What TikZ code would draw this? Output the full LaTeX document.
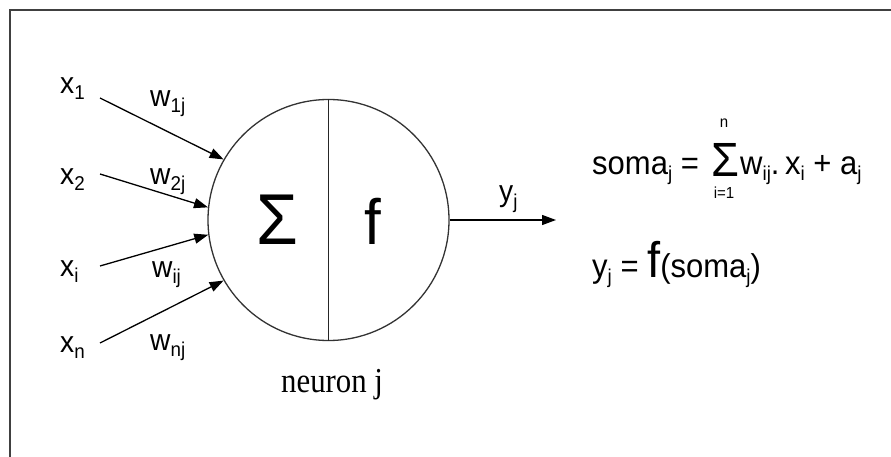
\documentclass[tikz,border=0pt]{standalone}
\usepackage{fontspec}
\newfontfamily\ar[FakeStretch=0.94]{Liberation Sans}
\newfontfamily\tnr[FakeStretch=0.88]{Liberation Serif}
\usetikzlibrary{arrows.meta}
\newcommand\fsz[1]{\fontsize{#1}{#1}\selectfont}
\newcommand\lo[1]{\raisebox{-6pt}{\fsz{20}#1}}
\begin{document}
\begin{tikzpicture}[x=1pt,y=-1pt,
  lbl/.style={font=\ar\fsz{30}, inner sep=0, anchor=base west},
  fml/.style={font=\ar\fsz{33}, inner sep=0, anchor=base west},
  small/.style={font=\ar\fsz{16}, inner sep=0, anchor=base},
  arr/.style={line width=1.3pt, -{Triangle[length=14pt,width=10pt]}},
  frame/.style={line width=1.5pt, draw=black!75}]
\useasboundingbox (0,0) rectangle (891,457);
\draw[frame] (10,457) -- (10,10) -- (891,10);
% neuron
\node[circle, draw=black!80, line width=1.3pt, minimum size=241pt, inner sep=0] (c) at (328.5,220) {};
\draw[line width=1.3pt, draw=black!85] (c.north) -- (c.south);
\node[font=\ar\fsz{72}, inner sep=0, anchor=base] (sig) at (277,244) {Σ};
\node[font=\ar\fsz{64}, inner sep=0, anchor=base] (fn) at (373,244) {f};
\node[font=\tnr\fsz{35}, inner sep=0, anchor=base west] (nl) at (281,392) {neuron j};
% inputs
\node[lbl] (x1) at (60,94) {x\lo{1}};
\node[lbl] (x2) at (60,185) {x\lo{2}};
\node[lbl] (xi) at (60,276) {x\lo{i}};
\node[lbl] (xn) at (60,352) {x\lo{n}};
\node[lbl] (w1) at (150,107) {w\lo{1j}};
\node[lbl] (w2) at (150,185) {w\lo{2j}};
\node[lbl] (wi) at (152,277) {w\lo{ij}};
\node[lbl] (wn) at (150,350) {w\lo{nj}};
\coordinate (s1) at (100,98);
\coordinate (s2) at (100,174);
\coordinate (s3) at (100,266);
\coordinate (s4) at (100,343);
\draw[arr] (s1) -- (c.150);
\draw[arr] (s2) -- (c.174);
\draw[arr] (s3) -- (c.187);
\draw[arr] (s4) -- (c.210);
% output
\coordinate (out) at (556,220);
\draw[arr] (c.east) -- (out);
\node[lbl] (yl) at (499,202) {y\lo{j}};
% formulas
\node[fml] (f1) at (592,175) {soma\lo{j} =};
\node[font=\ar\fsz{48}, inner sep=0, anchor=base] (bs) at (725,177) {Σ};
\node[small] (up) at (724,128) {n};
\node[small] (dn) at (724,199) {i=1};
\node[fml] (f1b) at (740,175) {w\lo{ij}.\,x\lo{i} + a\lo{j}};
\node[fml] (f2) at (592,277) {y\lo{j} = {\fsz{50}f}(soma\lo{j})};
\end{tikzpicture}
\end{document}
